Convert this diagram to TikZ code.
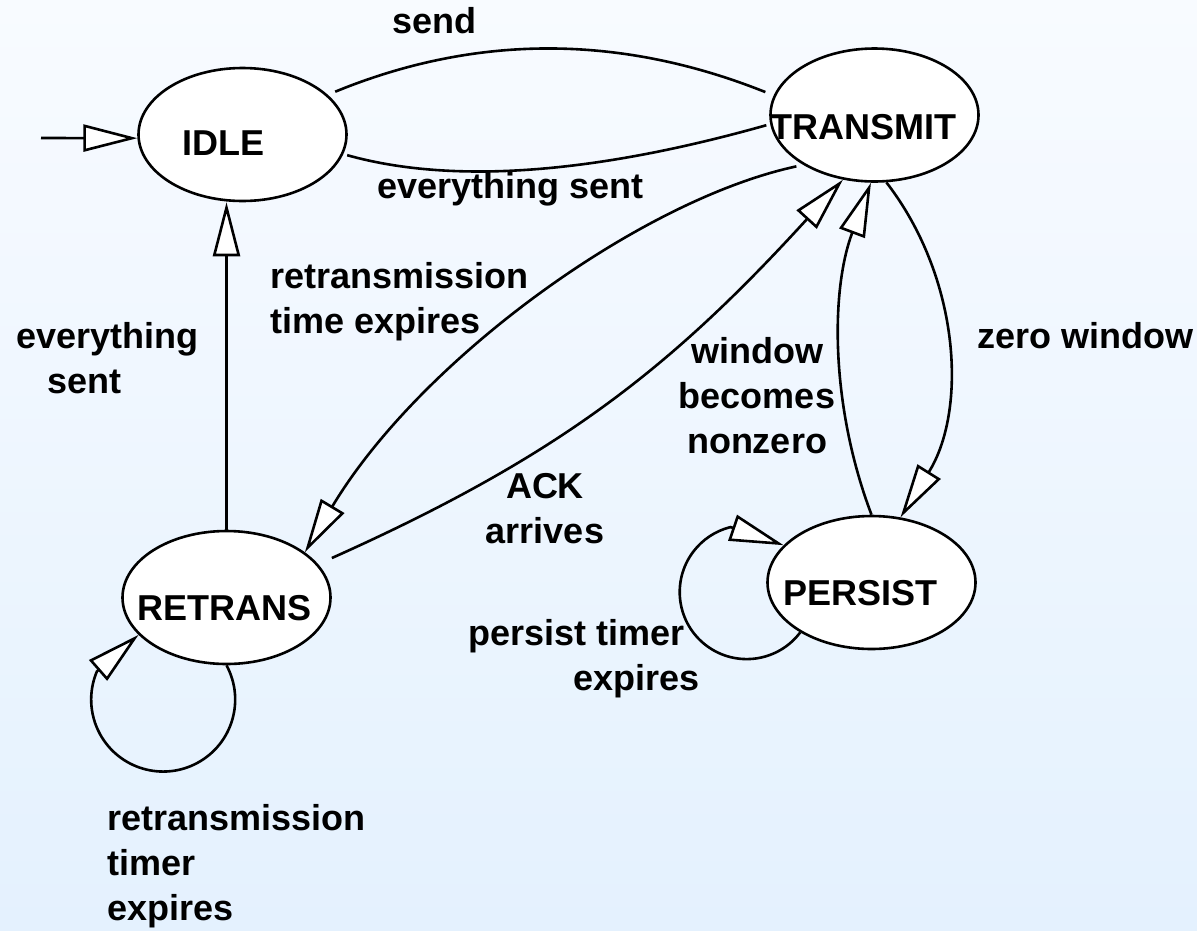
\documentclass[tikz,border=0pt]{standalone}
\usepackage{fontspec}
\setmainfont{Liberation Sans}
\usetikzlibrary{arrows.meta,shapes.geometric}
\definecolor{bgtop}{RGB}{248,251,255}
\definecolor{bgbot}{RGB}{228,241,254}
\begin{document}
\begin{tikzpicture}[x=1pt,y=1pt,
  state/.style={ellipse, draw, fill=white, line width=2.6pt, minimum width=208pt, minimum height=133pt, inner sep=0pt},
  lbl/.style={font=\fontsize{36}{45}\selectfont\bfseries, inner sep=0pt},
  plain/.style={line width=2.6pt},
  edge/.style={line width=2.6pt, -{Triangle[length=54pt,width=27pt,fill=white]}}]
\shade[top color=bgtop, bottom color=bgbot] (0,0) rectangle (1197,-930);
\useasboundingbox (0,0) rectangle (1197,-930);

\node[state] (idle) at (242.5,-134.5) {};
\node[state] (transmit) at (874.5,-115) {};
\node[state] (retrans) at (226.5,-597.5) {};
\node[state] (persist) at (871.5,-582.5) {};

\coordinate (init) at (41,-138);
\draw[edge] (init) -- (idle.182);
\draw[plain, shorten <=8pt, shorten >=9pt] (idle.25) .. controls (476,-34) and (620,-34) .. (transmit.169);
\draw[plain, shorten <=4pt, shorten >=4pt] (transmit.185) .. controls (590,-175) and (450,-184) .. (idle.-11);
\draw[edge] (retrans.north) -- (retrans.north |- idle.south);
\draw[edge, shorten <=7pt] (transmit.215) .. controls (640,-200) and (420,-360) .. (retrans.30);
\draw[edge, shorten <=15pt] (retrans.20) .. controls (560,-456) and (671,-368) .. (transmit.244);
\draw[edge] (persist.90) .. controls (831,-408) and (830,-292) .. (transmit.267);
\draw[edge] (transmit.280) .. controls (961,-279) and (967,-411) .. (persist.66);
\draw[edge] (retrans.270) arc[start angle=28.4, end angle=-203, radius=72] -- (retrans.203);
\draw[edge] (persist.215) arc[start angle=-37, end angle=-256, radius=67] -- (persist.157);

\node[lbl, anchor=base west] (idle-l) at (182,-155) {IDLE};
\node[lbl, anchor=base west] (transmit-l) at (770,-139) {TRANSMIT};
\node[lbl, anchor=base west] (retrans-l) at (137,-620) {RETRANS};
\node[lbl, anchor=base west] (persist-l) at (783,-605) {PERSIST};

\node[lbl, anchor=base west] (l-send) at (392,-33) {send};
\node[lbl, anchor=base west] (l-sent) at (377,-198) {everything sent};
\node[lbl, anchor=base west, align=left] (l-rto) at (270,-333) {retransmission\\time expires};
\node[lbl, anchor=base west, align=left] (l-sent2) at (16,-393) {everything\\\hspace*{31pt}sent};
\node[lbl, anchor=base, align=center] (l-win) at (757,-453) {window\\becomes\\nonzero};
\node[lbl, anchor=base, align=center] (l-ack) at (545,-543) {ACK\\arrives};
\node[lbl, anchor=base west] (l-zero) at (977,-348) {zero window};
\node[lbl, anchor=base west, align=left] (l-ptimer) at (468,-690) {persist timer\\\hspace*{105pt}expires};
\node[lbl, anchor=base west, align=left] (l-rtimer) at (107,-920) {retransmission\\timer\\expires};
\end{tikzpicture}
\end{document}
